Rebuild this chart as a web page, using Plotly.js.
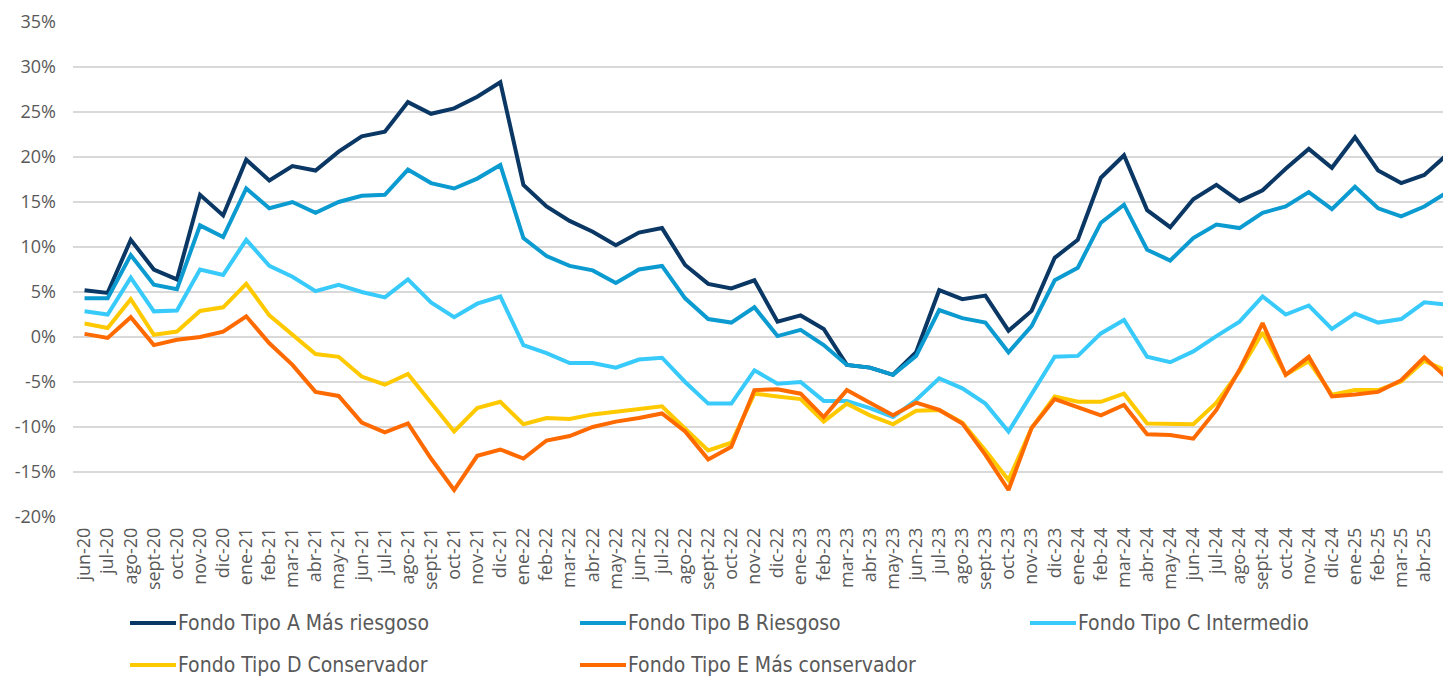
<!DOCTYPE html>
<html>
<head>
<meta charset="utf-8">
<script src="https://cdn.plot.ly/plotly-3.0.1.min.js"></script>
<style>
  html, body { margin: 0; padding: 0; background: #ffffff; }
  #chart { width: 1443px; height: 676px; }
</style>
</head>
<body>
<div id="chart"></div>
<script>
const categories = [
  'jun-20','jul-20','ago-20','sept-20','oct-20','nov-20','dic-20',
  'ene-21','feb-21','mar-21','abr-21','may-21','jun-21','jul-21','ago-21','sept-21','oct-21','nov-21','dic-21',
  'ene-22','feb-22','mar-22','abr-22','may-22','jun-22','jul-22','ago-22','sept-22','oct-22','nov-22','dic-22',
  'ene-23','feb-23','mar-23','abr-23','may-23','jun-23','jul-23','ago-23','sept-23','oct-23','nov-23','dic-23',
  'ene-24','feb-24','mar-24','abr-24','may-24','jun-24','jul-24','ago-24','sept-24','oct-24','nov-24','dic-24',
  'ene-25','feb-25','mar-25','abr-25','may-25'
];

const fondoA = [5.2,4.9,10.8,7.5,6.4,15.8,13.5,19.7,17.4,19.0,18.5,20.6,22.3,22.8,26.1,24.8,25.4,26.7,28.3,
  16.9,14.5,12.9,11.7,10.2,11.6,12.1,8.0,5.9,5.4,6.3,1.7,2.4,0.9,-3.1,-3.4,-4.2,-1.7,5.2,4.2,4.6,0.7,2.9,8.8,
  10.8,17.7,20.2,14.1,12.2,15.3,16.9,15.1,16.3,18.7,20.9,18.8,22.2,18.5,17.1,18.0,20.3];

const fondoB = [4.3,4.3,9.1,5.8,5.3,12.4,11.1,16.5,14.3,15.0,13.8,15.0,15.7,15.8,18.6,17.1,16.5,17.6,19.1,
  11.0,9.0,7.9,7.4,6.0,7.5,7.9,4.3,2.0,1.6,3.3,0.1,0.8,-0.9,-3.1,-3.4,-4.2,-2.1,3.0,2.1,1.6,-1.7,1.2,6.3,
  7.7,12.7,14.7,9.7,8.5,11.0,12.5,12.1,13.8,14.5,16.1,14.2,16.7,14.3,13.4,14.5,16.1];

const fondoC = [2.85,2.5,6.6,2.85,2.95,7.5,6.9,10.8,7.9,6.7,5.1,5.8,5.0,4.4,6.4,3.85,2.2,3.7,4.5,
  -0.9,-1.8,-2.9,-2.9,-3.4,-2.5,-2.3,-5.0,-7.4,-7.4,-3.7,-5.2,-5.0,-7.1,-7.1,-7.9,-8.9,-7.0,-4.6,-5.7,-7.4,-10.5,-6.3,-2.2,
  -2.1,0.4,1.9,-2.2,-2.8,-1.6,0.1,1.7,4.5,2.5,3.5,0.9,2.6,1.6,2.0,3.85,3.6];

const fondoD = [1.5,1.0,4.2,0.25,0.6,2.9,3.3,5.9,2.4,0.25,-1.9,-2.2,-4.4,-5.3,-4.1,-7.3,-10.5,-7.9,-7.2,
  -9.7,-9.0,-9.1,-8.6,-8.3,-8.0,-7.7,-10.2,-12.6,-11.75,-6.3,-6.6,-6.9,-9.4,-7.4,-8.7,-9.7,-8.2,-8.1,-9.5,-12.6,-15.9,-10.1,-6.6,
  -7.2,-7.2,-6.3,-9.6,-9.7,-9.7,-7.3,-3.8,0.5,-4.2,-2.7,-6.4,-5.9,-5.9,-4.95,-2.65,-3.8];

const fondoE = [0.35,-0.1,2.2,-0.9,-0.3,0.0,0.6,2.3,-0.7,-3.1,-6.1,-6.55,-9.5,-10.6,-9.6,-13.5,-17.0,-13.2,-12.5,
  -13.5,-11.5,-11.0,-10.0,-9.4,-9.0,-8.5,-10.5,-13.6,-12.2,-5.9,-5.8,-6.3,-8.9,-5.9,-7.3,-8.7,-7.3,-8.1,-9.6,-13.1,-17.0,-10.1,-6.9,
  -7.8,-8.7,-7.55,-10.8,-10.9,-11.3,-8.1,-3.65,1.55,-4.2,-2.2,-6.6,-6.4,-6.1,-4.8,-2.25,-4.6];

const seriesNames = [
  'Fondo Tipo A Más riesgoso',
  'Fondo Tipo B Riesgoso',
  'Fondo Tipo C Intermedio',
  'Fondo Tipo D Conservador',
  'Fondo Tipo E Más conservador'
];
const seriesColors = ['#0a3764', '#0b9bd0', '#38cafa', '#ffc900', '#ff6a00'];

const yTickValues = [-20,-15,-10,-5,0,5,10,15,20,25,30,35];
const yTickLabels = ['-20%','-15%','-10%','-5%','0%','5%','10%','15%','20%','25%','30%','35%'];

const seriesValues = [fondoA, fondoB, fondoC, fondoD, fondoE];

const traces = seriesValues.map((vals, k) => ({
  type: 'scatter',
  mode: 'lines',
  x: categories,
  y: vals,
  name: seriesNames[k],
  line: { color: seriesColors[k], width: 4 },
  showlegend: false,
  hoverinfo: 'skip'
}));

// Plot area geometry (pixels)
const W = 1443, H = 676;
const mL = 73, mR = 0, mT = 22, mB = 159;
const plotW = W - mL - mR, plotH = H - mT - mB;
const px2x = p => (p - mL) / plotW;
const py2y = p => (H - mB - p) / plotH;

// Custom legend (line sample + text) in paper coordinates
const legendCols = [130, 580, 1030];
const legendRows = [623, 665];
const shapes = [];
const annotations = [];
seriesNames.forEach((nm, k) => {
  const col = k % 3, row = Math.floor(k / 3);
  const x0 = legendCols[col], yy = legendRows[row];
  shapes.push({
    type: 'line', xref: 'paper', yref: 'paper',
    x0: px2x(x0), x1: px2x(x0 + 46), y0: py2y(yy), y1: py2y(yy),
    line: { color: seriesColors[k], width: 4 }
  });
  annotations.push({
    xref: 'paper', yref: 'paper', x: px2x(x0 + 46), y: py2y(yy),
    xanchor: 'left', yanchor: 'middle', showarrow: false,
    text: nm,
    font: { family: 'DejaVu Sans Condensed, DejaVu Sans, sans-serif', size: 21, color: '#595959' }
  });
});

const nCat = categories.length;
const xRange = [-0.5, nCat - 1 - 0.19];

const layout = {
  width: W, height: H,
  margin: { l: mL, r: mR, t: mT, b: mB, pad: 0 },
  paper_bgcolor: '#ffffff',
  plot_bgcolor: '#ffffff',
  showlegend: false,
  xaxis: {
    type: 'category',
    categoryorder: 'array',
    categoryarray: categories,
    range: xRange,
    tickmode: 'linear', tick0: 0, dtick: 1,
    tickangle: -90,
    ticks: '',
    showgrid: false,
    zeroline: false,
    showline: false,
    ticklabelstandoff: 6,
    tickfont: { family: 'Open Sans, sans-serif', size: 18, color: '#595959' }
  },
  xaxis2: {
    type: 'linear',
    overlaying: 'x',
    anchor: 'free',
    position: (0 - (-20)) / (35 - (-20)),
    range: xRange,
    tickmode: 'linear', tick0: -0.5, dtick: 1,
    ticks: 'outside', ticklen: 6, tickwidth: 1.5, tickcolor: '#d9d9d9',
    showticklabels: false,
    showgrid: false, zeroline: false,
    showline: true, linecolor: '#d9d9d9', linewidth: 1.5,
    layer: 'below traces'
  },
  yaxis: {
    range: [-20, 35],
    tickmode: 'array',
    tickvals: yTickValues,
    ticktext: yTickLabels,
    ticks: '',
    showgrid: true, gridcolor: '#d9d9d9', gridwidth: 1.5,
    zeroline: false, showline: false,
    ticklabelstandoff: 16,
    tickfont: { family: 'Open Sans, sans-serif', size: 18, color: '#595959' }
  },
  shapes: shapes,
  annotations: annotations
};

Plotly.newPlot('chart', traces, layout, { displayModeBar: false, staticPlot: true });
</script>
</body>
</html>
